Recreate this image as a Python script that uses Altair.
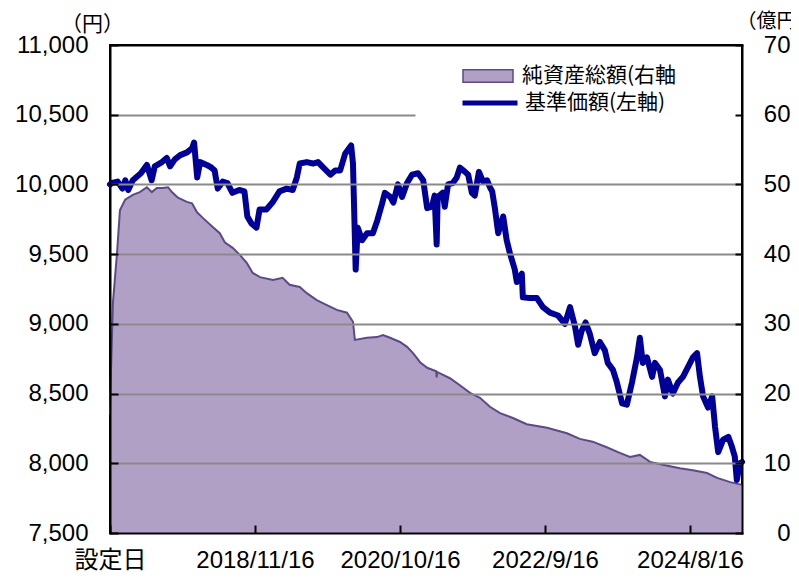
import altair as alt
import pandas as pd

# ---- data ----
nav_dates = [
    "2016-12-16", "2016-12-26", "2017-01-22", "2017-02-14", "2017-02-28", "2017-03-14",
    "2017-04-05", "2017-05-14", "2017-06-12", "2017-07-05", "2017-07-20", "2017-08-24",
    "2017-09-16", "2017-10-02", "2017-10-25", "2017-11-20", "2017-12-23", "2018-01-16",
    "2018-01-26", "2018-02-10", "2018-02-24", "2018-03-28", "2018-04-20", "2018-05-05",
    "2018-05-20", "2018-06-13", "2018-07-06", "2018-07-30", "2018-09-01", "2018-09-26",
    "2018-10-10", "2018-10-30", "2018-11-23", "2018-12-08", "2019-01-10", "2019-02-08",
    "2019-03-14", "2019-04-18", "2019-05-17", "2019-06-06", "2019-06-20", "2019-07-24",
    "2019-08-23", "2019-09-16", "2019-10-12", "2019-11-15", "2019-12-08", "2020-01-01",
    "2020-01-25", "2020-02-23", "2020-03-03", "2020-03-16", "2020-03-26", "2020-04-16",
    "2020-05-10", "2020-06-07", "2020-06-28", "2020-07-21", "2020-08-04", "2020-08-30",
    "2020-09-14", "2020-10-06", "2020-10-26", "2020-11-19", "2020-12-13", "2021-01-11",
    "2021-02-05", "2021-02-24", "2021-03-19", "2021-04-01", "2021-04-11", "2021-04-16",
    "2021-05-10", "2021-05-20", "2021-06-05", "2021-06-28", "2021-07-17", "2021-08-01",
    "2021-08-26", "2021-09-10", "2021-09-28", "2021-10-12", "2021-11-01", "2021-11-21",
    "2021-12-10", "2021-12-24", "2022-01-04", "2022-01-18", "2022-02-02", "2022-02-26",
    "2022-03-15", "2022-03-30", "2022-04-23", "2022-05-03", "2022-05-27", "2022-06-01",
    "2022-07-04", "2022-08-08", "2022-09-06", "2022-10-10", "2022-11-18", "2022-12-21",
    "2023-01-15", "2023-02-08", "2023-02-23", "2023-03-12", "2023-03-31", "2023-04-20",
    "2023-05-14", "2023-06-08", "2023-07-02", "2023-07-16", "2023-08-10", "2023-08-29",
    "2023-09-23", "2023-10-16", "2023-11-10", "2023-12-04", "2023-12-18", "2024-01-01",
    "2024-01-21", "2024-02-15", "2024-02-29", "2024-03-24", "2024-04-17", "2024-05-01",
    "2024-05-25", "2024-06-19", "2024-07-13", "2024-08-06", "2024-08-30", "2024-09-19",
    "2024-10-03", "2024-10-18", "2024-11-11", "2024-12-01", "2024-12-15", "2024-12-30",
    "2025-01-23", "2025-02-17", "2025-03-06", "2025-03-20", "2025-03-30", "2025-04-14",
    "2025-04-24",
]
nav_values = [
    10000, 10010, 10020, 9970, 10030, 9960,
    10030, 10080, 10140, 10030, 10130, 10160,
    10190, 10130, 10180, 10210, 10230, 10260,
    10300, 10050, 10160, 10140, 10120, 10100,
    9970, 10020, 10010, 9940, 9960, 9950,
    9770, 9720, 9690, 9820, 9820, 9870,
    9950, 9970, 9960, 10050, 10150, 10160,
    10150, 10160, 10120, 10070, 10100, 10100,
    10220, 10280, 10150, 9390, 9690, 9600,
    9650, 9650, 9740, 9860, 9940, 9910,
    9870, 10000, 9910, 10010, 10070, 10080,
    10030, 9830, 9840, 9920, 9570, 9910,
    9940, 9840, 10000, 10010, 10050, 10120,
    10090, 10070, 9940, 9920, 10090, 10020,
    10030, 9980, 9950, 9820, 9650, 9770,
    9600, 9510, 9390, 9300, 9360, 9190,
    9185, 9185, 9120, 9080, 9060, 9000,
    9120, 8980, 8850, 8950, 9010, 8930,
    8790, 8870, 8810, 8720, 8670, 8580,
    8430, 8420, 8580, 8760, 8900, 8720,
    8760, 8620, 8720, 8670, 8480, 8600,
    8500, 8580, 8620, 8690, 8760, 8790,
    8620, 8480, 8400, 8480, 8260, 8080,
    8170, 8190, 8120, 8050, 7880, 8000,
    8010,
]

asset_dates = [
    "2016-12-16", "2016-12-21", "2016-12-30", "2017-01-19", "2017-02-02", "2017-02-27",
    "2017-04-05", "2017-05-09", "2017-06-12", "2017-07-06", "2017-07-30", "2017-08-28",
    "2017-09-22", "2017-10-11", "2017-11-09", "2017-12-22", "2018-01-16", "2018-02-09",
    "2018-03-09", "2018-04-26", "2018-05-30", "2018-06-23", "2018-07-31", "2018-09-04",
    "2018-10-08", "2018-11-05", "2018-12-10", "2019-02-11", "2019-03-29", "2019-05-02",
    "2019-06-20", "2019-07-24", "2019-09-10", "2019-10-29", "2019-12-16", "2020-02-03",
    "2020-03-03", "2020-03-12", "2020-05-09", "2020-06-27", "2020-07-26", "2020-08-29",
    "2020-10-16", "2020-11-19", "2020-12-18", "2021-01-21", "2021-02-24", "2021-04-09",
    "2021-04-11", "2021-04-13", "2021-06-14", "2021-08-01", "2021-09-19", "2021-11-06",
    "2021-12-24", "2022-02-11", "2022-04-14", "2022-06-20", "2022-09-26", "2022-12-31",
    "2023-03-03", "2023-05-04", "2023-07-11", "2023-09-12", "2023-10-31", "2023-12-18",
    "2024-02-05", "2024-04-07", "2024-06-28", "2024-08-30", "2024-11-06", "2024-12-25",
    "2025-02-26", "2025-04-24",
]
asset_values = [
    17.0, 23.4, 33.0, 40.2, 46.3, 47.8,
    48.5, 48.9, 49.6, 48.9, 49.5, 49.5,
    49.6, 48.9, 48.1, 47.5, 47.3, 46.0,
    45.2, 43.9, 43.0, 41.7, 40.9, 39.9,
    38.7, 37.3, 36.7, 36.3, 36.6, 35.6,
    35.3, 34.4, 33.4, 32.7, 32.0, 31.6,
    30.3, 27.7, 28.0, 28.1, 28.4, 28.0,
    27.4, 26.7, 25.8, 24.5, 23.7, 23.2,
    22.3, 23.1, 22.2, 21.2, 20.1, 19.4,
    18.1, 17.2, 16.5, 15.6, 15.1, 14.3,
    13.5, 13.1, 12.3, 11.5, 10.9, 11.2,
    10.2, 9.8, 9.3, 9.0, 8.6, 7.9,
    7.3, 6.9,
]

tick_dates = ["2016-12-16", "2018-11-16", "2020-10-16", "2022-09-16", "2024-08-16"]
tick_labels = ["設定日", "2018/11/16", "2020/10/16", "2022/9/16", "2024/8/16"]
end_date = "2025-04-24"

nav_ticks = list(range(7500, 11001, 500))
asset_ticks = list(range(0, 71, 10))

nav_label = "基準価額(左軸)"
asset_label = "純資産総額(右軸"
left_unit = "（円）"
right_unit = "（億円）"

# ---- styles ----
NUM_FONT = "Liberation Sans, Noto Sans CJK JP"
CJK_FONT = "Noto Sans CJK JP"
AREA_FILL = "#b0a0c6"
AREA_LINE = "#5c4a86"
NAV_COLOR = "#000099"
GRID = "#8a8a8a"


def ms(d):
    return int(pd.Timestamp(d, tz="UTC").value // 10**6)


tick_ms = [ms(d) for d in tick_dates]
label_expr = "".join(
    f"time(datum.value) == {t} ? '{l}' : " for t, l in zip(tick_ms, tick_labels)
) + "''"

nav_df = pd.DataFrame({"date": nav_dates, "nav": nav_values, "series": nav_label})
asset_df = pd.DataFrame({"date": asset_dates, "assets": asset_values, "series": asset_label})

x_scale = alt.Scale(type="utc", domain=[ms(tick_dates[0]), ms(end_date)])

x_bottom = alt.X(
    "date:T",
    scale=x_scale,
    axis=alt.Axis(
        orient="bottom",
        values=tick_ms,
        labelExpr=label_expr,
        title=None,
        grid=False,
        domain=True,
        domainColor="black",
        domainWidth=2,
        domainCap="square",
        tickSize={"expr": "-8"},
        tickColor="black",
        tickWidth=2,
        labelPadding=23,
        labelFont=NUM_FONT,
        labelFontSize=24,
        labelColor="black",
        labelFlush=False,
        labelOverlap=False,
        zindex=2,
    ),
)

x_top = alt.X(
    "date:T",
    scale=x_scale,
    axis=alt.Axis(
        orient="top",
        title=None,
        grid=False,
        labels=False,
        ticks=False,
        domain=True,
        domainColor="black",
        domainWidth=2,
        domainCap="square",
        zindex=2,
    ),
)

asset_y = alt.Y(
    "assets:Q",
    scale=alt.Scale(domain=[0, 70], nice=False, zero=False),
    axis=alt.Axis(
        orient="right",
        values=asset_ticks,
        title=right_unit,
        titleAngle=0,
        titleX=-6,
        titleY=-24,
        titleAlign="left",
        titleBaseline="middle",
        titleFont=CJK_FONT,
        titleFontSize=20,
        titleFontWeight="normal",
        titleColor="black",
        grid=False,
        domain=True,
        domainColor="black",
        domainWidth=2,
        domainCap="square",
        tickSize={"expr": "-7"},
        tickColor="black",
        tickWidth=2,
        labelAlign="right",
        labelBaseline="middle",
        labelPadding=55,
        labelFont=NUM_FONT,
        labelFontSize=24,
        labelColor="black",
        labelFlush=False,
        zindex=2,
    ),
)

area = alt.Chart(asset_df).mark_area(opacity=1).encode(
    x=x_bottom,
    y=asset_y,
    fill=alt.Fill(
        "series:N",
        scale=alt.Scale(domain=[asset_label], range=[AREA_FILL]),
        legend=alt.Legend(
            title=None,
            orient="none",
            legendX=352,
            legendY=5,
            padding=0,
            symbolType="M-1,-0.25H1V0.25H-1Z",
            symbolSize=2500,
            symbolStrokeColor=AREA_LINE,
            symbolStrokeWidth=1.5,
            symbolOpacity=1,
            labelFont=CJK_FONT,
            labelFontSize=21,
            labelOffset=8,
            labelLimit=400,
            labelColor="black",
        ),
    ),
)

outline = alt.Chart(asset_df).mark_line(color=AREA_LINE, strokeWidth=2).encode(
    x=x_bottom,
    y=alt.Y("assets:Q"),
)

nav_line = alt.Chart(nav_df).mark_line(
    strokeWidth=6, strokeJoin="round", strokeCap="round"
).encode(
    x=x_top,
    y=alt.Y(
        "nav:Q",
        scale=alt.Scale(domain=[7500, 11000], nice=False, zero=False),
        axis=alt.Axis(
            orient="left",
            values=nav_ticks,
            format=",d",
            title=left_unit,
            titleAngle=0,
            titleX=-18,
            titleY=-21,
            titleAlign="center",
            titleBaseline="middle",
            titleFont=CJK_FONT,
            titleFontSize=21,
            titleFontWeight="normal",
            titleColor="black",
            grid=True,
            gridColor=GRID,
            gridWidth=2,
            gridOpacity={
                "condition": {"test": "datum.value == 7500 || datum.value == 11000", "value": 0},
                "value": 1,
            },
            gridDash={
                "condition": {"test": "datum.value == 10500", "value": [305, 1000]},
                "value": [],
            },
            domain=True,
            domainColor="black",
            domainWidth=2,
            domainCap="square",
            tickSize={"expr": "-8"},
            tickColor="black",
            tickWidth=2,
            labelPadding=30,
            labelFont=NUM_FONT,
            labelFontSize=24,
            labelColor="black",
            labelFlush=False,
            zindex=2,
        ),
    ),
    stroke=alt.Stroke(
        "series:N",
        scale=alt.Scale(domain=[nav_label], range=[NAV_COLOR]),
        legend=alt.Legend(
            title=None,
            orient="none",
            legendX=350,
            legendY=28,
            padding=0,
            symbolType="stroke",
            symbolSize=3025,
            symbolStrokeWidth=5,
            labelFont=CJK_FONT,
            labelFontSize=21,
            labelOffset=5,
            labelLimit=400,
            labelColor="black",
        ),
    ),
)

chart = (
    alt.layer(alt.layer(area, outline), nav_line)
    .resolve_scale(y="independent", x="shared")
    .resolve_axis(x="independent")
    .properties(
        width=632,
        height=488,
        padding={"left": 102, "top": 37, "right": 49, "bottom": 38},
        autosize=alt.AutoSizeParams(type="none"),
    )
    .configure_view(stroke="black", strokeWidth=2)
)

chart.save("out.html", embed_options={"renderer": "svg", "actions": False})
